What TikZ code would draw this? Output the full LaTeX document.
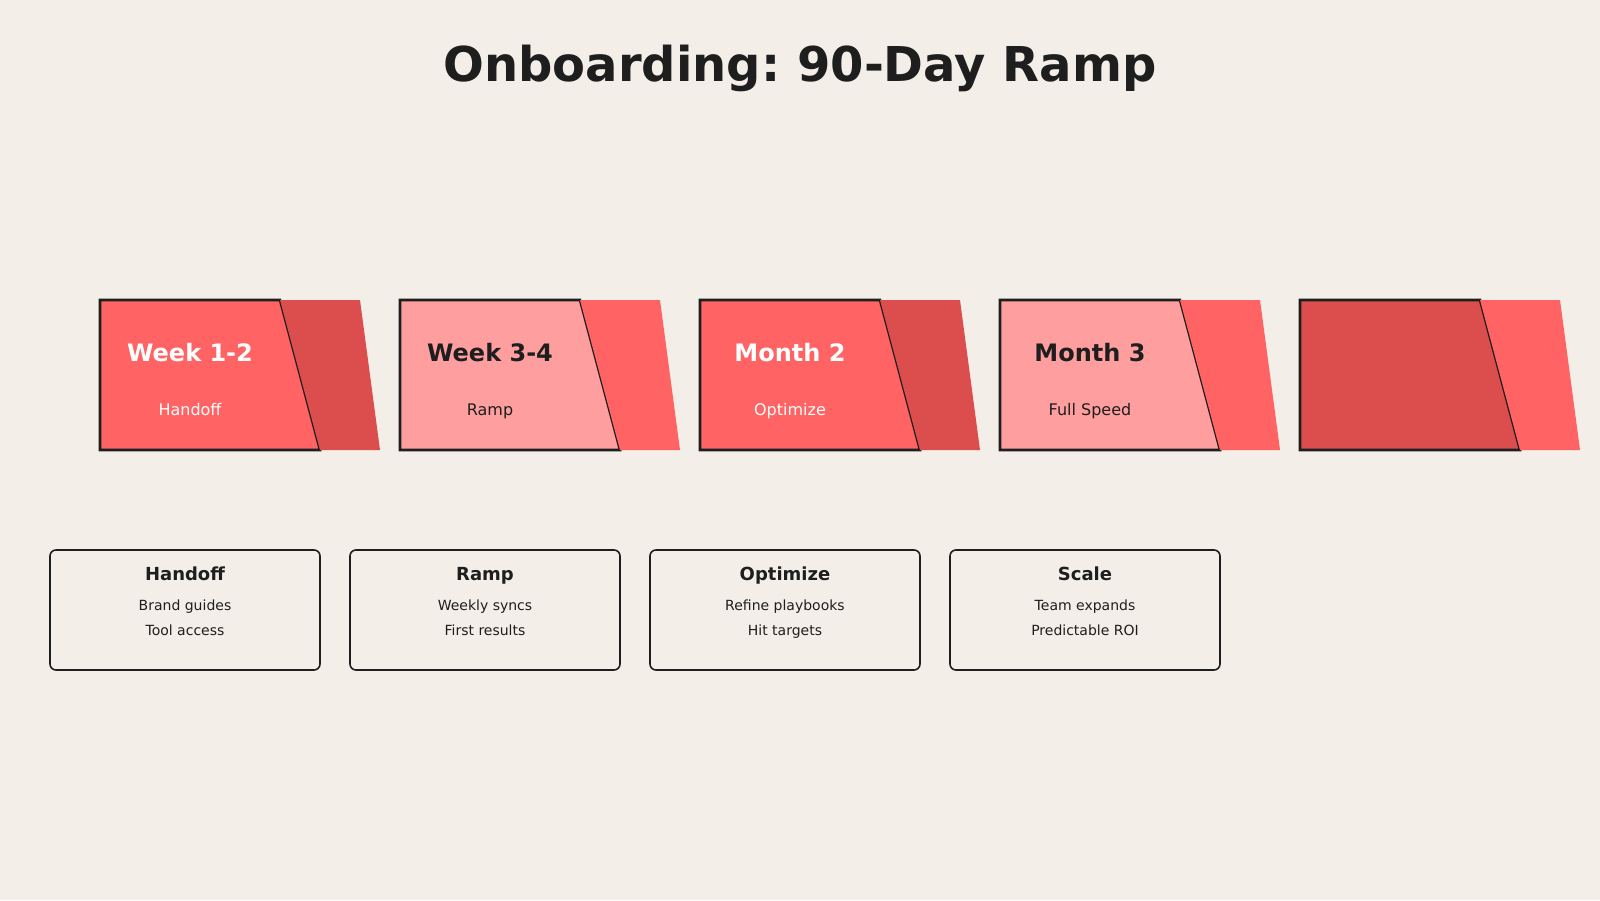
\documentclass[tikz,border=0pt]{standalone}
\usepackage{fontspec}
\setmainfont{DejaVu Sans}
\frenchspacing
\definecolor{bg}{HTML}{F3EFE8}
\definecolor{redA}{HTML}{FF6363}
\definecolor{redB}{HTML}{DC4D4D}
\definecolor{pinkA}{HTML}{FF9E9E}
\definecolor{ink}{HTML}{1E1E1E}
\tikzset{
  mainshape/.style={draw=ink, line width=2.6pt, line join=miter},
  phasetitle/.style={font=\bfseries\fontsize{24}{28}\selectfont, anchor=base, inner sep=0pt},
  phasesub/.style={font=\fontsize{16}{19}\selectfont, anchor=base, inner sep=0pt},
  card/.style={draw=ink, line width=1.6pt, rounded corners=6pt, fill=bg},
  cardtitle/.style={font=\bfseries\fontsize{18}{21}\selectfont, text=ink, anchor=base, inner sep=0pt},
  cardline/.style={font=\fontsize{14}{17}\selectfont, text=ink, anchor=base, inner sep=0pt},
}
\begin{document}
\begin{tikzpicture}[x=1pt,y=-1pt]
\fill[bg] (0,0) rectangle (1600,900);
\useasboundingbox (0,0) rectangle (1600,900);
\node[font=\bfseries\fontsize{48}{56}\selectfont, text=ink, anchor=base, inner sep=0pt] (title) at (800,81.5) {Onboarding: 90-Day Ramp};
% phases
\foreach \i/\mc/\bc/\tc/\ta/\tb in {0/redA/redB/white/Week 1-2/Handoff, 1/pinkA/redA/ink/Week 3-4/Ramp, 2/redA/redB/white/Month 2/Optimize, 3/pinkA/redA/ink/Month 3/Full Speed, 4/redB/redA/ink//}{
  \pgfmathsetmacro{\xo}{100+300*\i}
  \filldraw[mainshape, fill=\mc] (\xo,300) -- (\xo+180,300) -- (\xo+220,450) -- (\xo,450) -- cycle;
  \fill[\bc] (\xo+180,300) -- (\xo+260,300) -- (\xo+280,450) -- (\xo+220,450) -- cycle;
  \node[phasetitle, text=\tc] (pt\i) at (\xo+90,361) {\ta};
  \node[phasesub, text=\tc] (ps\i) at (\xo+90,415.5) {\tb};
}
% cards
\foreach \i/\ca/\cb/\cc in {0/Handoff/Brand guides/Tool access, 1/Ramp/Weekly syncs/First results, 2/Optimize/Refine playbooks/Hit targets, 3/Scale/Team expands/Predictable ROI}{
  \pgfmathsetmacro{\xc}{50+300*\i}
  \draw[card] (\xc,550) rectangle (\xc+270,670);
  \node[cardtitle] (ct\i) at (\xc+135,580.5) {\ca};
  \node[cardline] (ca\i) at (\xc+135,610.5) {\cb};
  \node[cardline] (cb\i) at (\xc+135,635.5) {\cc};
}
\end{tikzpicture}
\end{document}
